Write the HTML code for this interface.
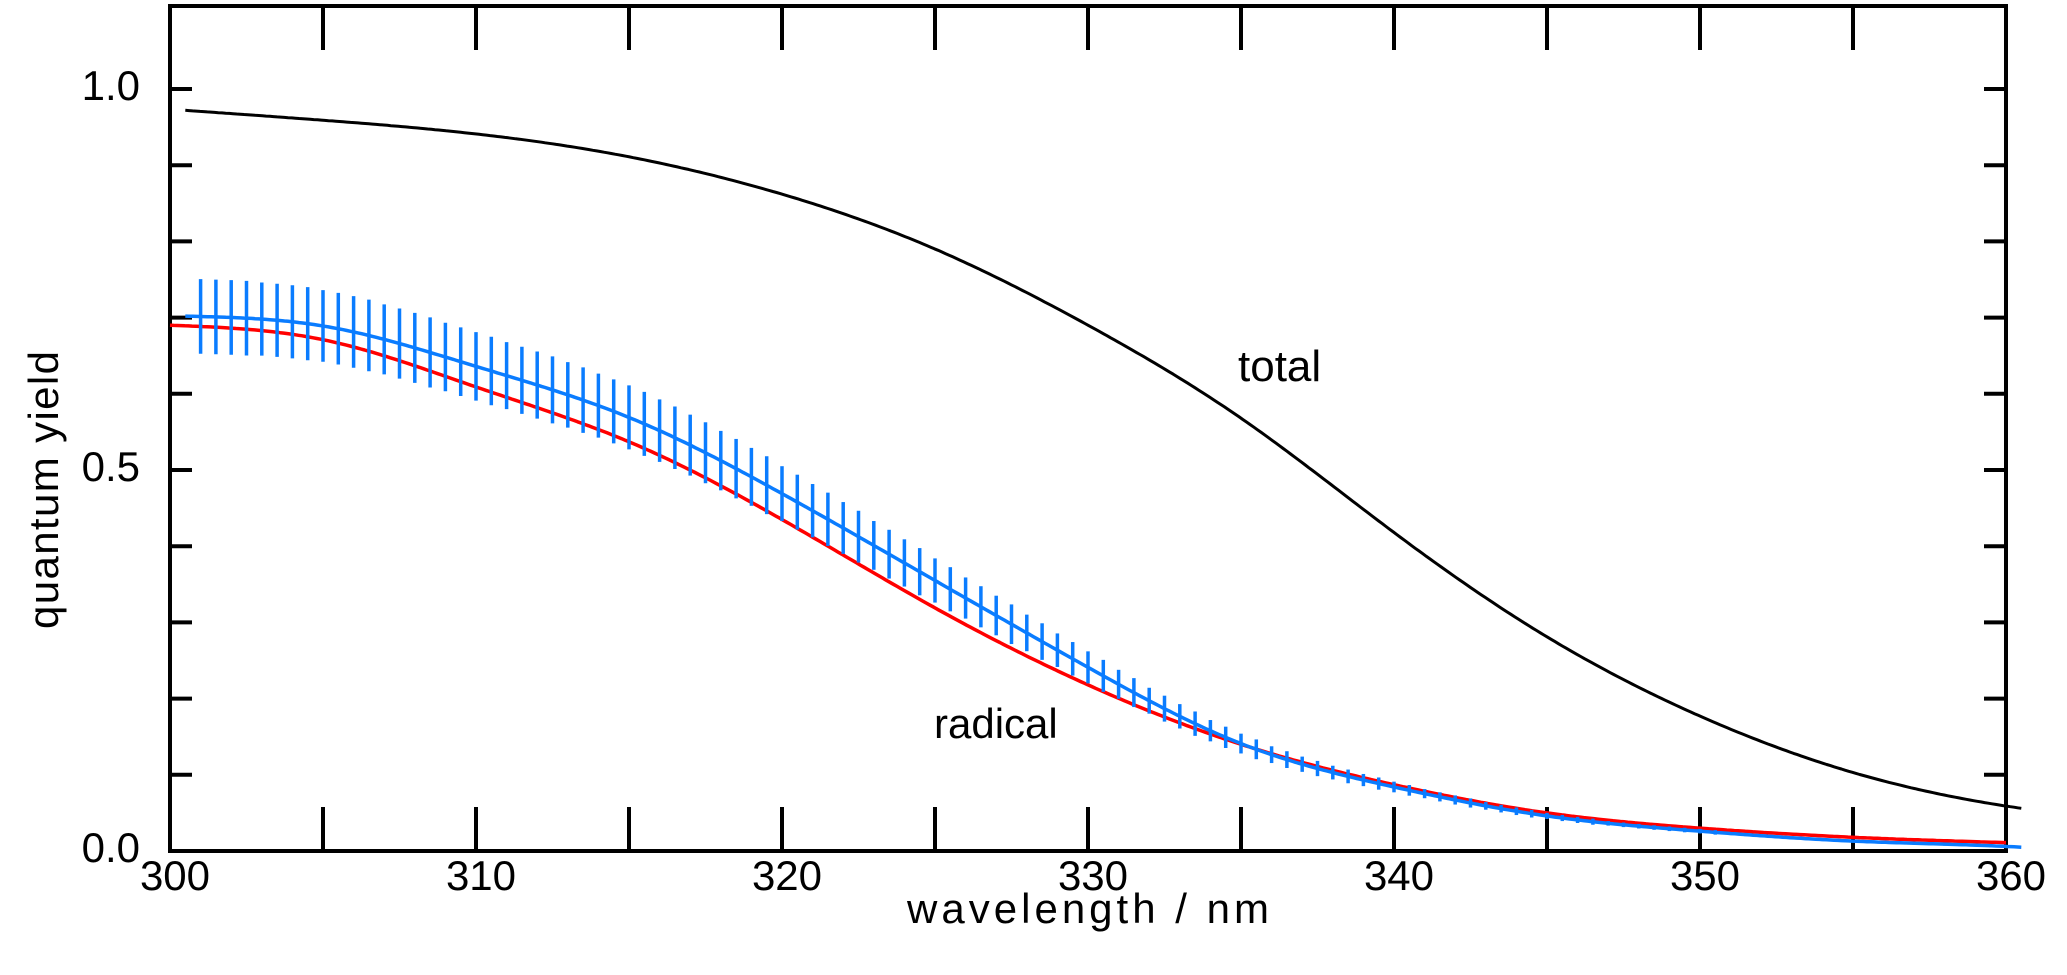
<!DOCTYPE html>
<html><head><meta charset="utf-8"><style>
html,body{margin:0;padding:0;background:#fff}
svg{display:block}
text{font-family:"Liberation Sans",sans-serif;fill:#000}
</style></head><body>
<svg id="chart" width="2067" height="975" viewBox="0 0 2067 975" xmlns="http://www.w3.org/2000/svg">
<g id="grid"></g>
<g id="series"></g>
<text x="907" y="923" font-size="42" textLength="362">wavelength / nm</text>
<text transform="translate(58,490) rotate(-90)" text-anchor="middle" font-size="42" textLength="278">quantum yield</text>
<text x="1238" y="381" font-size="44">total</text>
<text x="934" y="738" font-size="42">radical</text>
</svg>
<script>
const xTicks = [300,305,310,315,320,325,330,335,340,345,350,355,360];
const xTickLabels = ["300","310","320","330","340","350","360"];
const xTickLabelValues = [300,310,320,330,340,350,360];
const yTicks = [0.1,0.2,0.3,0.4,0.5,0.6,0.7,0.8,0.9,1.0];
const yTickLabels = ["0.0","0.5","1.0"];
const yTickLabelValues = [0,0.5,1.0];
const totalWl = [300.5,305,310,315,320,325,330,335,340,345,350,355,360,360.5];
const totalVal = [0.972,0.959,0.941,0.911,0.862,0.790,0.690,0.568,0.418,0.281,0.177,0.103,0.059,0.056];
const radicalWl = [300,305,310,315,320,325,330,335,340,345,350,355,360];
const radicalVal = [0.690,0.671,0.609,0.537,0.435,0.319,0.218,0.140,0.087,0.050,0.030,0.018,0.011];
const measWl = [300.5,305,310,315,320,325,330,335,340,345,350,355,360,360.5];
const measVal = [0.702,0.689,0.636,0.569,0.469,0.355,0.241,0.141,0.084,0.046,0.026,0.013,0.006,0.005];
const errWl = [301,302,303,304,305,306,307,308,309,310,311,312,313,314,315,316,317,318,319,320,321,322,323,324,325,326,327,328,329,330,331,332,333,334,335,336,337,338,339,340,341,342,343,344,345,346,347,348,349,350,351,352,353,354,355,356,357,358,359];
const errVal = [.049,.049,.048,.048,.047,.047,.046,.046,.045,.045,.044,.044,.043,.042,.042,.041,.040,.039,.038,.036,.035,.034,.032,.031,.029,.027,.026,.024,.022,.021,.019,.017,.016,.014,.013,.011,.010,.009,.008,.007,.006,.006,.005,.005,.004,.004,.003,.003,.003,.003,.002,.002,.002,.002,.002,.002,.002,.002,.002];

const X0=170, X1=2006, Y0=851, YTOP=6, YS=762;
const xs = w => X0 + (w-300)/60*(X1-X0);
const ys = v => Y0 - v*YS;
const NS="http://www.w3.org/2000/svg";
function mk(tag, attrs, parent){const e=document.createElementNS(NS,tag);for(const k in attrs)e.setAttribute(k,attrs[k]);parent.appendChild(e);return e;}

// natural cubic spline (rendering helper for smooth curves)
function interp(xa, ya){
  const n=xa.length, h=[], al=[0], l=[1], mu=[0], z=[0], c=new Array(n).fill(0), b=[], d=[];
  for(let i=0;i<n-1;i++) h.push(xa[i+1]-xa[i]);
  for(let i=1;i<n-1;i++) al.push(3/h[i]*(ya[i+1]-ya[i])-3/h[i-1]*(ya[i]-ya[i-1]));
  for(let i=1;i<n-1;i++){ l[i]=2*(xa[i+1]-xa[i-1])-h[i-1]*mu[i-1]; mu[i]=h[i]/l[i]; z[i]=(al[i]-h[i-1]*z[i-1])/l[i]; }
  for(let j=n-2;j>=0;j--){ c[j]=(j>0?z[j]-mu[j]*c[j+1]:0); b[j]=(ya[j+1]-ya[j])/h[j]-h[j]*(c[j+1]+2*c[j])/3; d[j]=(c[j+1]-c[j])/(3*h[j]); }
  return function(x){
    let i=0; while(i<n-2 && x>xa[i+1]) i++;
    const t=x-xa[i];
    return ya[i]+b[i]*t+c[i]*t*t+d[i]*t*t*t;
  };
}
function curve(xa, ya, color, width, name){
  const f=interp(xa,ya); let d="";
  const a=xa[0], b=xa[xa.length-1];
  for(let k=0;k<=500;k++){const w=a+(b-a)*k/500; d+=(k?"L":"M")+xs(w).toFixed(1)+","+ys(f(w)).toFixed(1);}
  const p=mk("path",{d:d,fill:"none",stroke:color,"stroke-width":width,"stroke-linejoin":"round"},document.getElementById("series"));
  
  
  return f;
}

const g=document.getElementById("grid");
const frame=mk("rect",{x:X0,y:YTOP,width:X1-X0,height:Y0-YTOP,fill:"none",stroke:"#000","stroke-width":4},g);


xTicks.forEach(w=>{
  const b=mk("line",{x1:xs(w),x2:xs(w),y1:Y0,y2:Y0-44,stroke:"#000","stroke-width":4},g);
  
  
  const t=mk("line",{x1:xs(w),x2:xs(w),y1:YTOP,y2:YTOP+44,stroke:"#000","stroke-width":4},g);
  
  
});
yTicks.forEach(v=>{
  const l=mk("line",{x1:X0,x2:X0+22,y1:ys(v),y2:ys(v),stroke:"#000","stroke-width":4},g);
  
  
  const r=mk("line",{x1:X1-22,x2:X1,y1:ys(v),y2:ys(v),stroke:"#000","stroke-width":4},g);
  
  
});
xTickLabelValues.forEach((w,i)=>{
  const t=mk("text",{x:xs(w)+5,y:890,"text-anchor":"middle","font-size":42},g);
  t.textContent=xTickLabels[i];
  
  
});
yTickLabelValues.forEach((v,i)=>{
  const t=mk("text",{x:140,y:ys(v)+11,"text-anchor":"end","font-size":42},g);
  t.textContent=yTickLabels[i];
  
  
});

curve(totalWl,totalVal,"#000",3,"total-line");
curve(radicalWl,radicalVal,"#ff0000",3.5,"radical-line");
const fm=curve(measWl,measVal,"#0a7cff",3.5,"measured-line");
const sg=document.getElementById("series");
errWl.forEach((w,i)=>{
  [w, w+0.5].forEach(ww=>{
    const c=fm(ww), e=errVal[i];
    const l=mk("line",{x1:xs(ww),x2:xs(ww),y1:ys(c+e),y2:ys(c-e),stroke:"#0a7cff","stroke-width":3.5},sg);
    
    
  });
});
</script>
</body></html>
